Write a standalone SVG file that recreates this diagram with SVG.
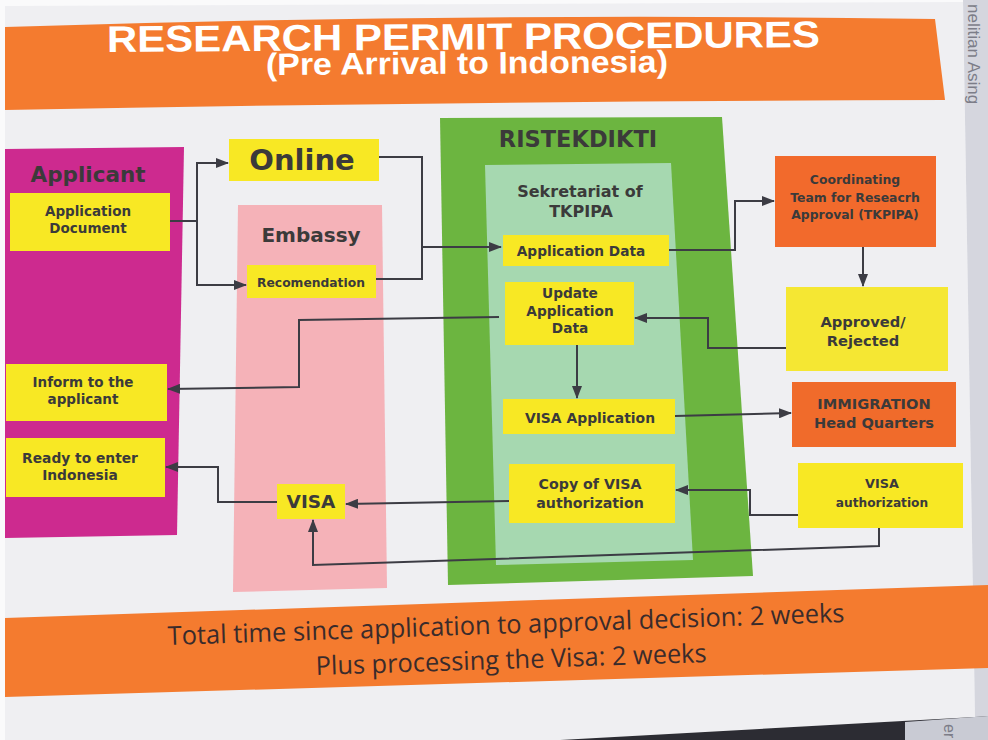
<svg xmlns="http://www.w3.org/2000/svg" width="988" height="740" viewBox="0 0 988 740">
  <defs>
    <style>
      .lbl{font-family:"DejaVu Sans",Verdana,sans-serif;font-weight:bold;fill:#3b3a3a;text-anchor:middle}
      .box{fill:#f8e824}
      .conn{fill:none;stroke:#3c3c44;stroke-width:2}
      .arr{marker-end:url(#ah)}
      .ban{font-family:"Liberation Sans",Arial,sans-serif;font-weight:bold;fill:#ffffff}
      .foot{font-family:"Open Sans","Liberation Sans",sans-serif;fill:#3a2b2b;font-size:26px}
    </style>
    <marker id="ah" markerUnits="userSpaceOnUse" viewBox="0 0 13 10" markerWidth="13" markerHeight="10" refX="12" refY="5" orient="auto">
      <path d="M0,0 L13,5 L0,10 Z" fill="#3c3c44"/>
    </marker>
  </defs>

  <!-- page and surroundings -->
  <rect x="0" y="0" width="988" height="740" fill="#fafafb"/>
  <polygon points="5,6 963,2 975,717 560,740 5,740" fill="#efeff2"/>
  <polygon points="963,0 988,0 988,716 975,717" fill="#d5d6de"/>
  <text x="968" y="4" transform="rotate(90 968 4)" font-family="Liberation Sans,Arial,sans-serif" font-size="17" fill="#7c7d88">nelitian Asing</text>
  <polygon points="560,740 975,717 988,716 988,740" fill="#2c2c33"/>
  <polygon points="905,722 988,716 988,740 905,740" fill="#c9cbd4"/>
  <text x="944" y="724" transform="rotate(90 944 724)" font-family="Liberation Sans,Arial,sans-serif" font-size="16" fill="#7c7d88">er</text>

  <!-- title banner -->
  <g id="title">
    <path d="M5,27 Q470,12 935,19 L945,100 Q475,101 5,110 Z" fill="#f47b2f"/>
    <text class="ban" x="107" y="52" font-size="37" textLength="713" lengthAdjust="spacingAndGlyphs" transform="rotate(-0.4 107 52)">RESEARCH PERMIT PROCEDURES</text>
    <text class="ban" x="266" y="75" font-size="31" textLength="402" lengthAdjust="spacingAndGlyphs" transform="rotate(-0.4 266 75)">(Pre Arrival to Indonesia)</text>
  </g>

  <!-- swim lanes -->
  <g id="applicant">
    <polygon points="5,149 184,147 177,535 5,538" fill="#cd2a8f"/>
    <text class="lbl" x="88" y="182" font-size="21.5">Applicant</text>
  </g>
  <g id="embassy">
    <polygon points="238,205 382,205 387,588 233,592" fill="#f5b2b8"/>
    <text class="lbl" x="311" y="242" font-size="20">Embassy</text>
  </g>
  <g id="ristekdikti">
    <polygon points="440,118 722,117 753,576 448,585" fill="#6cb540"/>
    <text class="lbl" x="578" y="147" font-size="22.5">RISTEKDIKTI</text>
  </g>
  <g id="sekretariat">
    <polygon points="485,165 671,163 693,560 496,565" fill="#a6d8b0"/>
    <text class="lbl" x="580" y="197" font-size="16">Sekretariat of</text>
    <text class="lbl" x="581" y="217" font-size="16">TKPIPA</text>
  </g>

  <!-- process nodes -->
  <g id="application-document">
    <rect class="box" x="10" y="193" width="160" height="58"/>
    <text class="lbl" x="88" y="216" font-size="13.5">Application</text>
    <text class="lbl" x="88" y="233" font-size="13.5">Document</text>
  </g>
  <g id="online">
    <rect class="box" x="229" y="139" width="150" height="42"/>
    <text class="lbl" x="302" y="170" font-size="29">Online</text>
  </g>
  <g id="recomendation">
    <rect class="box" x="247" y="265" width="129" height="33"/>
    <text class="lbl" x="311" y="287" font-size="12.3">Recomendation</text>
  </g>
  <g id="inform-applicant">
    <rect class="box" x="6" y="364" width="161" height="57"/>
    <text class="lbl" x="83" y="387" font-size="13.5">Inform to the</text>
    <text class="lbl" x="83" y="404" font-size="13.5">applicant</text>
  </g>
  <g id="ready-to-enter">
    <rect class="box" x="6" y="438" width="159" height="59"/>
    <text class="lbl" x="80" y="463" font-size="13.8">Ready to enter</text>
    <text class="lbl" x="80" y="480" font-size="13.8">Indonesia</text>
  </g>
  <g id="visa">
    <rect class="box" x="277" y="484" width="68" height="35"/>
    <text class="lbl" x="311" y="508" font-size="18.5">VISA</text>
  </g>
  <g id="application-data">
    <rect class="box" x="503" y="235" width="166" height="31"/>
    <text class="lbl" x="581" y="256" font-size="13.7">Application Data</text>
  </g>
  <g id="update-application-data">
    <rect class="box" x="505" y="282" width="129" height="63"/>
    <text class="lbl" x="570" y="298" font-size="13.7">Update</text>
    <text class="lbl" x="570" y="316" font-size="13.7">Application</text>
    <text class="lbl" x="570" y="333" font-size="13.7">Data</text>
  </g>
  <g id="visa-application">
    <rect class="box" x="503" y="399" width="172" height="35"/>
    <text class="lbl" x="590" y="423" font-size="13.9">VISA Application</text>
  </g>
  <g id="copy-visa-authorization">
    <rect class="box" x="509" y="464" width="166" height="59"/>
    <text class="lbl" x="590" y="489" font-size="14.2">Copy of VISA</text>
    <text class="lbl" x="590" y="508" font-size="14.2">authorization</text>
  </g>
  <g id="coordinating-team">
    <rect x="775" y="156" width="161" height="91" fill="#f26a2c"/>
    <text class="lbl" x="855" y="184" font-size="12.4">Coordinating</text>
    <text class="lbl" x="855" y="202" font-size="12.4">Team for Reseacrh</text>
    <text class="lbl" x="855" y="219" font-size="12.4">Approval (TKPIPA)</text>
  </g>
  <g id="approved-rejected">
    <rect x="786" y="287" width="162" height="84" fill="#f5e733"/>
    <text class="lbl" x="863" y="327" font-size="14.7">Approved/</text>
    <text class="lbl" x="863" y="346" font-size="14.7">Rejected</text>
  </g>
  <g id="immigration">
    <rect x="792" y="382" width="164" height="65" fill="#f06b2b"/>
    <text class="lbl" x="874" y="409" font-size="14.6">IMMIGRATION</text>
    <text class="lbl" x="874" y="428" font-size="14.6">Head Quarters</text>
  </g>
  <g id="visa-authorization">
    <rect class="box" x="798" y="463" width="165" height="65"/>
    <text class="lbl" x="882" y="488" font-size="12.8">VISA</text>
    <text class="lbl" x="882" y="507" font-size="12.2">authorization</text>
  </g>

  <!-- connectors -->
  <g id="connectors">
    <path class="conn arr" d="M170,221 H197 V163 H228"/>
    <path class="conn arr" d="M197,221 V285 H246"/>
    <path class="conn arr" d="M379,157 H422 V247 H501"/>
    <path class="conn" d="M376,279 H422 V247"/>
    <path class="conn arr" d="M669,250 H735 V201 H774"/>
    <path class="conn arr" d="M863,247 V286"/>
    <path class="conn arr" d="M786,348 H708 V318 H635"/>
    <path class="conn arr" d="M499,317 L299,320 L299,387 L168,389"/>
    <path class="conn arr" d="M577,345 V398"/>
    <path class="conn arr" d="M675,416 L791,413"/>
    <path class="conn arr" d="M798,515 H750 V490 H676"/>
    <path class="conn arr" d="M509,501 L346,504"/>
    <path class="conn arr" d="M277,502 H218 V467 H166"/>
    <path class="conn arr" d="M879,528 V546 L313,565 V520"/>
  </g>

  <!-- footer banner -->
  <g id="footer">
    <polygon points="5,618 988,585 988,668 5,697" fill="#f47b2f"/>
    <text class="foot" x="168" y="645" textLength="677" lengthAdjust="spacingAndGlyphs" transform="rotate(-1.95 168 645)">Total time since application to approval decision: 2 weeks</text>
    <text class="foot" x="316" y="675" textLength="391" lengthAdjust="spacingAndGlyphs" transform="rotate(-1.9 316 675)">Plus processing the Visa: 2 weeks</text>
  </g>
</svg>
